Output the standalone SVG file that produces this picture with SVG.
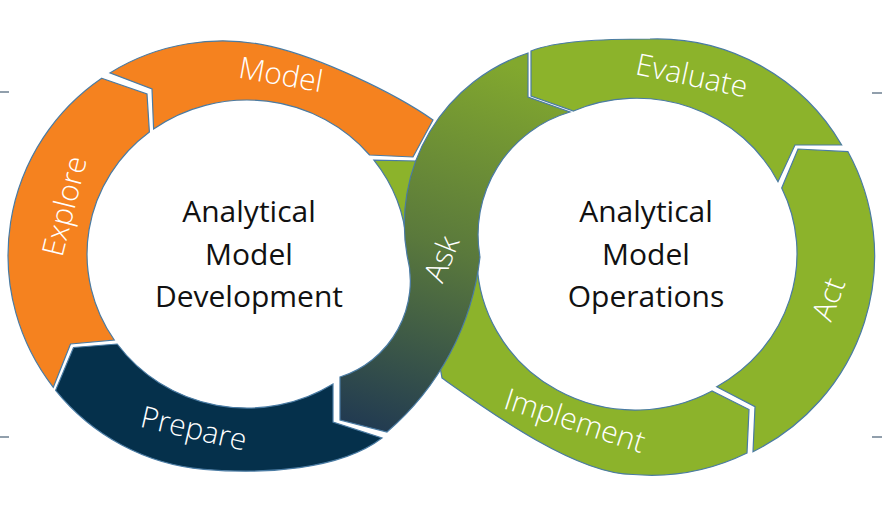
<svg xmlns="http://www.w3.org/2000/svg" width="882" height="520" viewBox="0 0 882 520">
<defs>
<linearGradient id="askGrad" gradientUnits="userSpaceOnUse" x1="500" y1="60" x2="375" y2="430">
<stop offset="0" stop-color="#82a82e"/>
<stop offset="0.5" stop-color="#5a793c"/>
<stop offset="1" stop-color="#223b51"/>
</linearGradient>
<style>
.seg{stroke:#4a7ba3;stroke-width:1.2;stroke-linejoin:miter}
.orange{fill:#f5821f}
.navy{fill:#05304b}
.green{fill:#8cb32b}
.ask{fill:url(#askGrad)}
.lbl{font-family:"Open Sans","Lato","Liberation Sans",sans-serif;font-weight:300;font-size:30px;fill:#ffffff;text-anchor:middle}
.ctr{font-family:"Open Sans","Liberation Sans",sans-serif;font-size:30px;fill:#111111;text-anchor:middle}
.mark{stroke:#6d7f90;stroke-width:1.5}
</style>
</defs>
<rect width="882" height="520" fill="#ffffff"/>

<g id="marks">
<line class="mark" x1="0" y1="92" x2="9" y2="92"/>
<line class="mark" x1="0" y1="437" x2="9" y2="437"/>
<line class="mark" x1="872" y1="93" x2="882" y2="93"/>
<line class="mark" x1="872" y1="437" x2="882" y2="437"/>
</g>

<g id="explore">
<path class="seg orange" d="M101.7,78.2 L147,94 L149.4,132 A160,154 0 0 0 114.3,340 L70.5,344 L53.3,387.3 A214.6,214.6 0 0 1 101.7,78.2 Z"/>
<text class="lbl" font-size="31" transform="translate(64,206) rotate(-76)" y="11">Explore</text>
</g>

<g id="model">
<path class="seg orange" d="M109.9,72.9 A214.6,214.6 0 0 1 270.9,46.4 C319.6,57.6 393,92 433,120 L413,157 L369.6,155 A160,154 0 0 0 153.6,129 L152,89 Z"/>
<text class="lbl" font-size="31" transform="translate(281,74) rotate(10)" y="11">Model</text>
</g>

<g id="prepare">
<path class="seg navy" d="M333,384 L333,422 L382,438 C340,470 263.7,474.5 203.9,469.3 A214.6,214.6 0 0 1 55.6,390.3 L73.5,347.5 L117.2,344 A160,154 0 0 0 333,384 Z"/>
<text class="lbl" transform="translate(194,428) rotate(13)" y="11">Prepare</text>
</g>

<g id="evaluate">
<path class="seg green" d="M841.7,145 L795,145 L778,181.7 A158.5,153 0 0 0 573.5,111 L531,96 L531,51 C556,41 600,39 650,39 A214,214 0 0 1 841.7,145 Z"/>
<text class="lbl" transform="translate(692,75) rotate(12)" y="11">Evaluate</text>
</g>

<g id="act">
<path class="seg green" d="M753,451.7 A218,218 0 0 0 848,151.7 L798,149 L781.7,188 A158.5,153 0 0 1 716.7,386.7 L755,406.7 Z"/>
<text class="lbl" transform="translate(828,299) rotate(-70)" y="11">Act</text>
</g>

<g id="implement">
<path class="seg green" d="M373.9,160.2 L417,161 L437.5,124 L476,250 L477,262 A158.5,153 0 0 0 712,391 L749,409.5 L747,453 A218,218 0 0 1 633,474.5 C575,474 487,410 442,378 L428,300 L411,255 L406.7,245 A160,154 0 0 0 373.9,160.2 Z"/>
<text class="lbl" transform="translate(575,420) rotate(18)" y="11">Implement</text>
</g>

<g id="ask">
<path class="seg ask" d="M528,53 L528,97 L570,112 A128,128 0 0 0 480,257 A270,270 0 0 1 387,432 L340,420 L340,377 A101,101 0 0 0 407,255 A180,180 0 0 1 528,53 Z"/>
<text class="lbl" font-size="28" transform="translate(442,259) rotate(-68)" y="10">Ask</text>
</g>

<g id="development-center">
<text class="ctr" x="249" y="222">Analytical</text>
<text class="ctr" x="249" y="264.5">Model</text>
<text class="ctr" x="249" y="307">Development</text>
</g>

<g id="operations-center">
<text class="ctr" x="646" y="222">Analytical</text>
<text class="ctr" x="646" y="264.5">Model</text>
<text class="ctr" x="646" y="307">Operations</text>
</g>
</svg>
